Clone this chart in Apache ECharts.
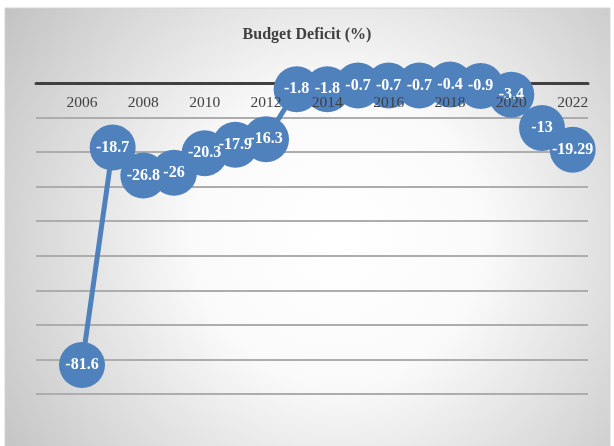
<!DOCTYPE html>
<html>
<head>
<meta charset="utf-8">
<script src="https://cdn.jsdelivr.net/npm/echarts@6/dist/echarts.min.js"></script>
<style>html,body{margin:0;padding:0;background:#fff}#c{width:614px;height:446px}</style>
</head>
<body>
<div id="c"></div>
<script>
var years = ['2005','2006','2007','2008','2009','2010','2011','2012','2013','2014','2015','2016','2017','2018','2019','2020','2021','2022'];
var deficit = ['-', -81.6, -18.7, -26.8, -26, -20.3, -17.9, -16.3, -1.8, -1.8, -0.7, -0.7, -0.7, -0.4, -0.9, -3.4, -13, -19.29];
var titleText = 'Budget Deficit (%)';

var chart = echarts.init(document.getElementById('c'), null, {renderer: 'canvas'});
chart.setOption({
  animation: false,
  backgroundColor: '#ffffff',
  graphic: [{
    type: 'rect',
    z: -10,
    silent: true,
    shape: {x: 5, y: 8, width: 605, height: 440},
    style: {
      fill: {
        type: 'radial', x: 0.55, y: 0.52, r: 0.95,
        colorStops: [{offset: 0, color: '#ffffff'}, {offset: 0.35, color: '#fafafa'}, {offset: 1, color: '#bfbfbf'}]
      },
      stroke: '#d4d4d4', lineWidth: 1
    }
  }],
  title: {
    text: titleText,
    left: 302,
    textAlign: 'center',
    top: 22,
    textStyle: {fontFamily: 'Liberation Serif', fontWeight: 'bold', fontSize: 16, color: '#404040'}
  },
  grid: {left: 36, right: 26, top: 83, bottom: 52, containLabel: false},
  xAxis: [{
    type: 'category',
    position: 'bottom',
    axisLine: {show: true, onZero: true, lineStyle: {color: '#404040', width: 3}},
    data: years,
    boundaryGap: true,
    axisTick: {show: false},
    axisLabel: {show: false},
    splitLine: {show: false},
    z: 1
  }, {
    type: 'category',
    position: 'top',
    data: years,
    boundaryGap: true,
    axisLine: {show: false},
    axisTick: {show: false},
    axisLabel: {
      inside: true,
      margin: 12,
      interval: function (idx) { return idx % 2 === 1; },
      fontFamily: 'Liberation Serif',
      fontSize: 15.5,
      color: '#404040'
    },
    splitLine: {show: false},
    z: 5
  }],
  yAxis: {
    type: 'value',
    min: -90,
    max: 0,
    interval: 10,
    axisLine: {show: false},
    axisTick: {show: false},
    axisLabel: {show: false},
    splitLine: {show: true, lineStyle: {color: '#adadad', width: 2}}
  },
  series: [{
    type: 'line',
    xAxisIndex: 0,
    data: deficit,
    symbol: 'circle',
    symbolSize: 46,
    showAllSymbol: true,
    itemStyle: {color: '#4F81BD'},
    lineStyle: {color: '#4F81BD', width: 5},
    label: {
      show: true,
      position: 'inside',
      color: '#ffffff',
      fontFamily: 'Liberation Serif',
      fontWeight: 'bold',
      fontSize: 16
    },
    labelLayout: {hideOverlap: false},
    z: 3
  }]
});
</script>
</body>
</html>
